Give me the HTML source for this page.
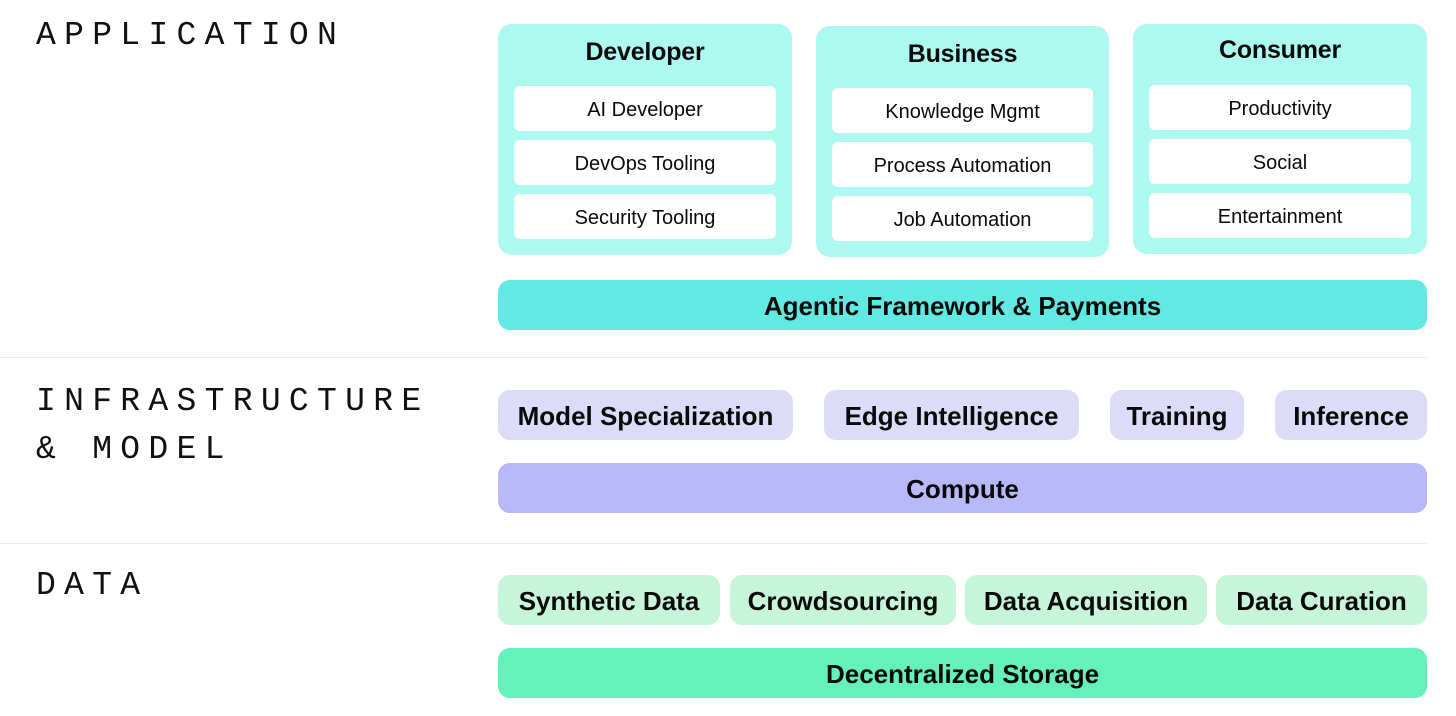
<!DOCTYPE html>
<html><head><meta charset="utf-8"><style>
body{margin:0;width:1456px;height:716px;background:#fff;position:relative;overflow:hidden;font-family:"Liberation Sans",sans-serif;color:#0a0a0a}
.a{position:absolute;box-sizing:border-box}
.lbl{font-family:"Liberation Mono",monospace;font-size:33px;letter-spacing:8.3px;line-height:48px;color:#111}
.box{background:#adf9f0;border-radius:14px}
.hd{position:absolute;left:0;right:0;text-align:center;font-size:25px;font-weight:bold;letter-spacing:-0.2px}
.w{position:absolute;left:16px;right:16px;height:45px;background:#fff;border-radius:6px;text-align:center;line-height:49px;font-size:20px}
.p{display:flex;align-items:center;justify-content:center;border-radius:12px;font-size:26px;font-weight:bold;letter-spacing:0px;height:50px;padding-top:2px}
.sep{position:absolute;left:0;width:1427px;height:1px;background:#e9e9e9}
</style></head><body>
<div class="a lbl" style="left:36px;top:12px">APPLICATION</div>
<div class="a lbl" style="left:36px;top:378px">INFRASTRUCTURE<br>&amp; MODEL</div>
<div class="a lbl" style="left:36px;top:562px">DATA</div>

<div class="a box" style="left:498px;top:24px;width:294px;height:231px">
<div class="hd" style="top:14px">Developer</div>
<div class="w" style="top:62px">AI Developer</div>
<div class="w" style="top:116px">DevOps Tooling</div>
<div class="w" style="top:170px">Security Tooling</div>
</div>
<div class="a box" style="left:816px;top:26px;width:293px;height:231px">
<div class="hd" style="top:14px">Business</div>
<div class="w" style="top:62px">Knowledge Mgmt</div>
<div class="w" style="top:116px">Process Automation</div>
<div class="w" style="top:170px">Job Automation</div>
</div>
<div class="a box" style="left:1133px;top:24px;width:294px;height:230px">
<div class="hd" style="top:12px">Consumer</div>
<div class="w" style="top:61px">Productivity</div>
<div class="w" style="top:115px">Social</div>
<div class="w" style="top:169px">Entertainment</div>
</div>
<div class="a p" style="left:498px;top:280px;width:929px;background:#62e9e1">Agentic Framework &amp; Payments</div>

<div class="sep" style="top:357px"></div>

<div class="a p" style="left:498px;top:390px;width:295px;background:#dcdcf8">Model Specialization</div>
<div class="a p" style="left:824px;top:390px;width:255px;background:#dcdcf8">Edge Intelligence</div>
<div class="a p" style="left:1110px;top:390px;width:134px;background:#dcdcf8">Training</div>
<div class="a p" style="left:1275px;top:390px;width:152px;background:#dcdcf8">Inference</div>
<div class="a p" style="left:498px;top:463px;width:929px;background:#b9b9f9">Compute</div>

<div class="sep" style="top:543px"></div>

<div class="a p" style="left:498px;top:575px;width:222px;background:#c6f5da">Synthetic Data</div>
<div class="a p" style="left:730px;top:575px;width:226px;background:#c6f5da">Crowdsourcing</div>
<div class="a p" style="left:965px;top:575px;width:242px;background:#c6f5da">Data Acquisition</div>
<div class="a p" style="left:1216px;top:575px;width:211px;background:#c6f5da">Data Curation</div>
<div class="a p" style="left:498px;top:648px;width:929px;background:#64f1bc">Decentralized Storage</div>
</body></html>
